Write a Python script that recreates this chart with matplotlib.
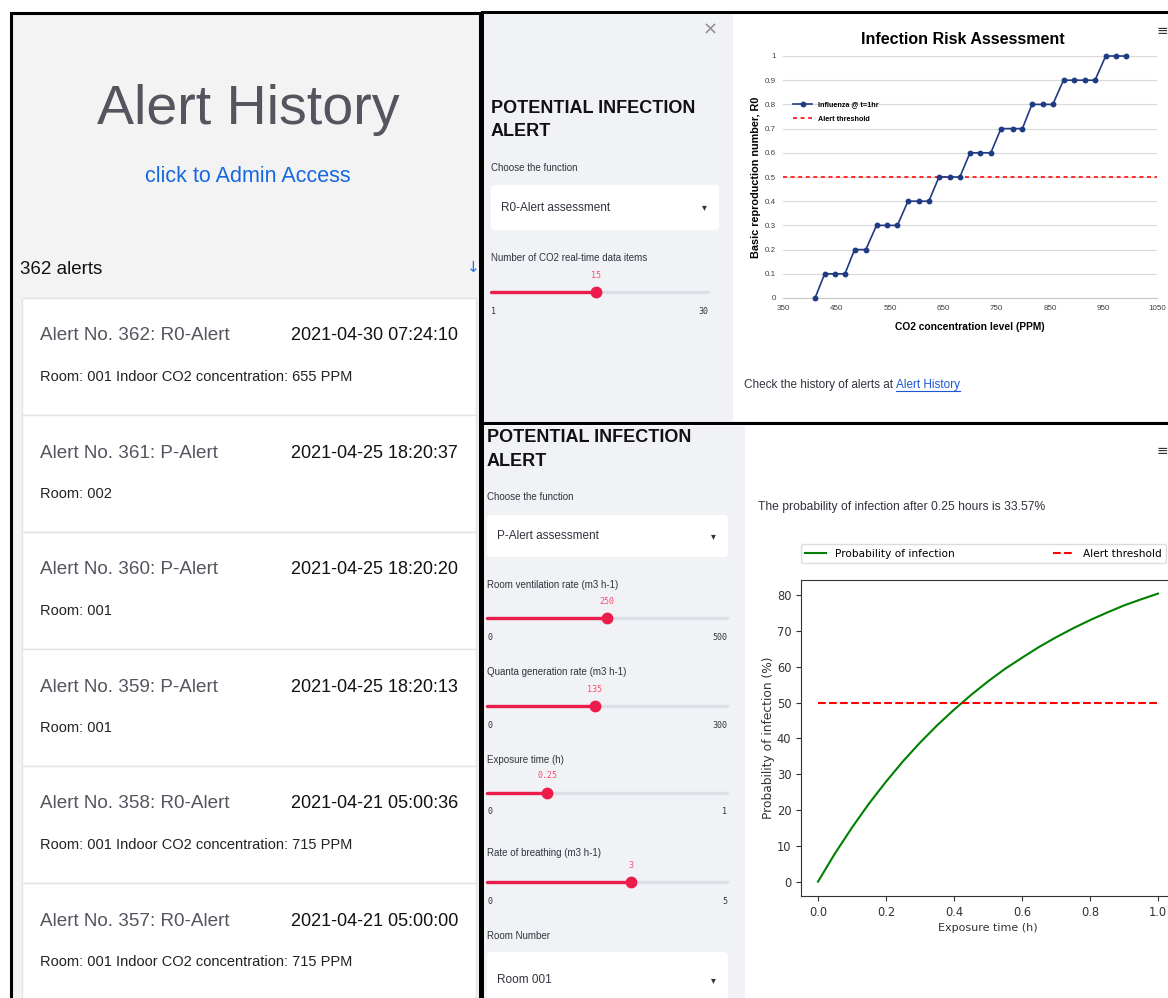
import matplotlib
matplotlib.use("Agg")
import matplotlib.pyplot as plt
from matplotlib.patches import Rectangle, FancyBboxPatch

W, H = 1168, 998

# ---- data -------------------------------------------------------------------
alert_total = 362
alert_numbers = [362, 361, 360, 359, 358, 357]
alert_kinds = ["R0-Alert", "P-Alert", "P-Alert", "P-Alert", "R0-Alert", "R0-Alert"]
alert_times = ["2021-04-30 07:24:10", "2021-04-25 18:20:37", "2021-04-25 18:20:20",
               "2021-04-25 18:20:13", "2021-04-21 05:00:36", "2021-04-21 05:00:00"]
alert_details = ["Room: 001 Indoor CO2 concentration: 655 PPM", "Room: 002", "Room: 001",
                 "Room: 001", "Room: 001 Indoor CO2 concentration: 715 PPM",
                 "Room: 001 Indoor CO2 concentration: 715 PPM"]

co2_ppm = [410, 428, 448, 466, 484, 505, 525, 545, 564, 584, 604, 623, 642, 662, 681, 700,
           719, 739, 758, 780, 798, 816, 836, 855, 875, 894, 915, 934, 954, 973, 992]
r0_values = [0, 0.1, 0.1, 0.1, 0.2, 0.2, 0.3, 0.3, 0.3, 0.4, 0.4, 0.4, 0.5, 0.5, 0.5, 0.6,
             0.6, 0.6, 0.7, 0.7, 0.7, 0.8, 0.8, 0.8, 0.9, 0.9, 0.9, 0.9, 1.0, 1.0, 1.0]
r0_threshold = 0.5
co2_ticks = [350, 450, 550, 650, 750, 850, 950, 1050]
r0_ticks = [0, 0.1, 0.2, 0.3, 0.4, 0.5, 0.6, 0.7, 0.8, 0.9, 1.0]
r0_tick_labels = ["0", "0.1", "0.2", "0.3", "0.4", "0.5", "0.6", "0.7", "0.8", "0.9", "1"]

exposure_h = [0, 0.05, 0.1, 0.15, 0.2, 0.25, 0.3, 0.35, 0.4, 0.45, 0.5,
              0.55, 0.6, 0.65, 0.7, 0.75, 0.8, 0.85, 0.9, 0.95, 1.0]
p_infection = [0, 7.9, 15.1, 21.8, 27.9, 33.6, 38.8, 43.6, 48.0, 52.1, 55.9,
               59.4, 62.5, 65.5, 68.2, 70.7, 73.0, 75.1, 77.1, 78.8, 80.4]
p_threshold = 50
exposure_ticks = [0.0, 0.2, 0.4, 0.6, 0.8, 1.0]
p_ticks = [0, 10, 20, 30, 40, 50, 60, 70, 80]

co2_slider_label = "Number of CO2 real-time data items"
co2_slider_range = (1, 30)
co2_slider_value = 15

p_slider_labels = ["Room ventilation rate (m3 h-1)", "Quanta generation rate (m3 h-1)",
                   "Exposure time (h)", "Rate of breathing (m3 h-1)"]
p_slider_min = [0, 0, 0, 0]
p_slider_max = [500, 300, 1, 5]
p_slider_values = [250, 135, 0.25, 3]
p_slider_texts = ["250", "135", "0.25", "3"]

# ---- fonts / colours ----------------------------------------------------------
ARIAL = ["Liberation Sans", "DejaVu Sans"]
MONO = ["DejaVu Sans Mono"]
ST_TEXT = "#31333f"
ST_SIDEBAR = "#f0f2f6"
ST_RED = "#ec1c4b"
GREYPURPLE = "#57535f"

fig = plt.figure(figsize=(W / 100, H / 100), dpi=100)
fig.patch.set_facecolor("white")

# full-figure axes in pixel coordinates for the UI chrome
page = fig.add_axes([0, 0, 1, 1])
page.set_xlim(0, W)
page.set_ylim(H, 0)
page.axis("off")


def txt(x, y, s, size, family=ARIAL, **kw):
    kw.setdefault("va", "center")
    kw.setdefault("color", ST_TEXT)
    return page.text(x, y, s, fontsize=size, family=family, **kw)


def draw_select(x0, y0, x1, y1, label):
    page.add_patch(FancyBboxPatch((x0, y0), x1 - x0, y1 - y0,
                                  boxstyle="round,pad=0,rounding_size=4",
                                  fc="white", ec="none"))
    txt(x0 + 10, (y0 + y1) / 2, label, 8.5)
    txt(x1 - 15, (y0 + y1) / 2, "\u25be", 7, family=["DejaVu Sans"], ha="center")


def draw_slider(x0, x1, y, vmin, vmax, val, val_text):
    xt = x0 + (val - vmin) / (vmax - vmin) * (x1 - x0)
    page.plot([x0, x1], [y, y], color="#dcdfe5", lw=2.4, solid_capstyle="round")
    page.plot([x0, xt], [y, y], color=ST_RED, lw=2.4, solid_capstyle="round")
    page.plot([xt], [y], "o", color=ST_RED, ms=7.5)
    txt(xt, y - 17, val_text, 6, family=MONO, ha="center", color="#ff4b6b")
    txt(x0, y + 19, f"{vmin:g}", 6, family=MONO)
    txt(x1, y + 19, f"{vmax:g}", 6, family=MONO, ha="right")


# ---- left panel: alert history ----------------------------------------------
page.add_patch(Rectangle((11, 13), 469, 995, fc="#f3f3f4", ec="black", lw=2.2))
txt(248, 110, "Alert History", 40, ha="center", color=GREYPURPLE)
txt(248, 176, "click to Admin Access", 15.5, ha="center", color="#1667e0")
txt(20, 270, f"{alert_total} alerts", 13.5, color="#111111")
txt(473, 267, "\u2193", 11, family=["DejaVu Sans"], ha="center", color="#1a73e8")

card_top, card_h = 298, 117
for i, (num, kind, when, info) in enumerate(zip(alert_numbers, alert_kinds,
                                                alert_times, alert_details)):
    top = card_top + i * card_h
    page.add_patch(Rectangle((22, top), 454, card_h, fc="white", ec="#e3e3e3", lw=1))
    txt(40, top + 38, f"Alert No. {num}: {kind}", 13.6, color=GREYPURPLE)
    txt(458, top + 38, when, 13, ha="right", color="#111111")
    txt(40, top + 79, info, 10.5, color="#222222")

# ---- right top panel: R0 alert ----------------------------------------------
page.add_patch(Rectangle((482, 12), 700, 411, fc="white", ec="black", lw=2.2))
page.add_patch(Rectangle((484, 14), 249, 408, fc=ST_SIDEBAR, ec="none"))
txt(710, 30, "\u00d7", 13, family=["DejaVu Sans"], ha="center", color="#8a8a8a")
txt(491, 108, "POTENTIAL INFECTION", 13, weight="bold", color="#111111")
txt(491, 131, "ALERT", 13, weight="bold", color="#111111")
txt(491, 168, "Choose the function", 7)
draw_select(491, 185, 719, 230, "R0-Alert assessment")
txt(491, 258, co2_slider_label, 7)
draw_slider(491, 708, 292, co2_slider_range[0], co2_slider_range[1],
            co2_slider_value, str(co2_slider_value))
txt(1157, 31, "\u2261", 10, family=["DejaVu Sans"], color="#333333")

t_check = txt(744, 385, "Check the history of alerts at", 8.5)
fig.canvas.draw()
bb = t_check.get_window_extent()
lx0 = page.transData.inverted().transform((bb.x1, bb.y0))[0] + 3
t_link = txt(lx0, 385, "Alert History", 8.5, color="#1a55d6")
fig.canvas.draw()
bl = t_link.get_window_extent()
lx1 = page.transData.inverted().transform((bl.x1, bl.y0))[0]
page.plot([lx0, lx1], [391, 391], color="#1a55d6", lw=0.8)

ax1 = fig.add_axes([783 / W, 1 - 298 / H, 374 / W, 242 / H])
ax1.plot(co2_ppm, r0_values, color="#1f3b84", lw=1.2, marker="o", ms=3.2,
         clip_on=False, label="Influenza @ t=1hr", zorder=3)
ax1.axhline(r0_threshold, color="#ff1a1a", lw=1.3, ls=(0, (2.2, 2.0)),
            label="Alert threshold", zorder=2)
ax1.set_xlim(350, 1050)
ax1.set_ylim(0, 1)
ax1.set_xticks(co2_ticks, [str(v) for v in co2_ticks], family=ARIAL, fontsize=5.8)
ax1.set_yticks(r0_ticks, r0_tick_labels, family=ARIAL, fontsize=5.8)
ax1.tick_params(length=0, colors="#404040", pad=5)
ax1.grid(axis="y", color="#d9d9d9", lw=0.8)
for side in ("left", "top", "right"):
    ax1.spines[side].set_visible(False)
ax1.spines["bottom"].set_color("#c8c8c8")
ax1.set_title("Infection Risk Assessment", family=ARIAL, fontweight="bold",
              fontsize=11.5, pad=9, x=0.48)
ax1.set_xlabel("CO2 concentration level (PPM)", family=ARIAL, fontweight="bold",
               fontsize=7.4, labelpad=7)
ax1.set_ylabel("Basic reproduction number, R0", family=ARIAL, fontweight="bold",
               fontsize=7.8, labelpad=3)
ax1.legend(loc="upper left", bbox_to_anchor=(0.01, 0.84), frameon=False,
           prop={"family": ARIAL, "weight": "bold", "size": 5.2},
           handlelength=2.6, labelspacing=1.0)

# ---- right bottom panel: P alert ---------------------------------------------
page.add_patch(Rectangle((482, 423), 700, 600, fc="white", ec="black", lw=2.2))
page.add_patch(Rectangle((484, 426), 261, 580, fc=ST_SIDEBAR, ec="none"))
txt(487, 438, "POTENTIAL INFECTION", 13, weight="bold", color="#111111")
txt(487, 461, "ALERT", 13, weight="bold", color="#111111")
txt(487, 497, "Choose the function", 7)
draw_select(487, 515, 728, 557, "P-Alert assessment")

label_ys = [585, 672, 760, 853]
track_ys = [618, 706, 793, 882]
for lab, ly, ty, lo, hi, v, vt in zip(p_slider_labels, label_ys, track_ys, p_slider_min,
                                      p_slider_max, p_slider_values, p_slider_texts):
    txt(487, ly, lab, 7)
    draw_slider(487, 727, ty, lo, hi, v, vt)

txt(487, 936, "Room Number", 7)
draw_select(487, 952, 728, 1008, "Room 001")
txt(1157, 451, "\u2261", 10, family=["DejaVu Sans"], color="#333333")
txt(758, 507, "The probability of infection after 0.25 hours is 33.57%", 8.7)

ax2 = fig.add_axes([801 / W, 1 - 896 / H, 374 / W, 316 / H])
ax2.plot(exposure_h, p_infection, color="green", lw=1.5, label="Probability of infection")
ax2.plot([exposure_h[0], exposure_h[-1]], [p_threshold, p_threshold], "r--", lw=1.5,
         label="Alert threshold")
ax2.set_xlim(-0.05, 1.05)
ax2.set_ylim(-4.0, 84.2)
ax2.set_xticks(exposure_ticks, [f"{v:.1f}" for v in exposure_ticks])
ax2.set_yticks(p_ticks)
ax2.tick_params(labelsize=8.3, colors="#333333")
for sp in ax2.spines.values():
    sp.set_color("#333333")
ax2.set_xlabel("Exposure time (h)", fontsize=8, color="#333333", labelpad=3)
ax2.set_ylabel("Probability of infection (%)", fontsize=8.8, color="#333333", labelpad=1)
ax2.legend(ncols=2, mode="expand", loc="lower left", bbox_to_anchor=(0, 1.054, 0.975, 0.066),
           borderaxespad=0, fontsize=7.6, edgecolor="#d4d4d4", fancybox=True,
           handlelength=2.0)

fig.savefig("out.png", dpi=100)
